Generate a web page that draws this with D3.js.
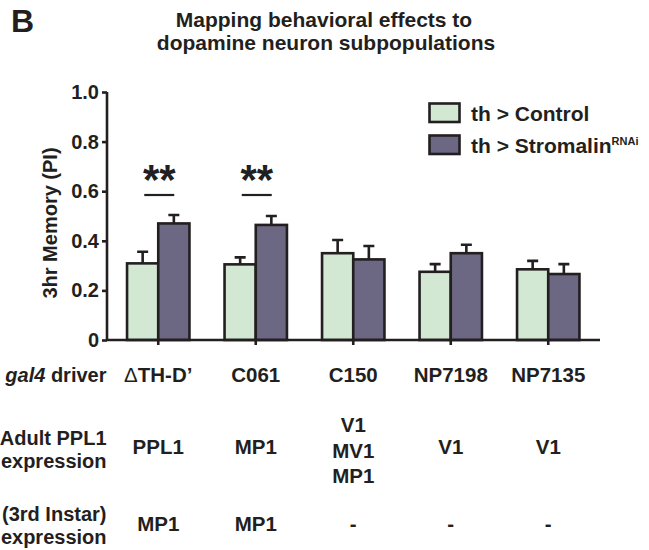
<!DOCTYPE html>
<html>
<head>
<meta charset="utf-8">
<script src="https://cdn.jsdelivr.net/npm/d3@7"></script>
<style>
  body { margin: 0; background: #fff; }
  svg text { font-family: "Liberation Sans", Arial, sans-serif; font-weight: bold; fill: #231f20; }
</style>
</head>
<body>
<div id="chart"></div>
<script>
const drivers = ["ΔTH-D’", "C061", "C150", "NP7198", "NP7135"];
const series = ["th > Control", "th > Stromalin"];
const controlMean = [0.309, 0.305, 0.350, 0.275, 0.285];
const controlErr = [0.047, 0.028, 0.053, 0.031, 0.034];
const rnaiMean = [0.470, 0.464, 0.325, 0.350, 0.266];
const rnaiErr = [0.034, 0.036, 0.054, 0.034, 0.040];
const significant = ["ΔTH-D’", "C061"];
const adultExpr = [["PPL1"], ["MP1"], ["V1", "MV1", "MP1"], ["V1"], ["V1"]];
const larvalExpr = ["MP1", "MP1", "-", "-", "-"];
const yTicks = [0, 0.2, 0.4, 0.6, 0.8, 1.0];

const width = 649, height = 550;
const ink = "#231f20";
const colors = ["#d2e8d3", "#6c6783"];

const svg = d3.select("#chart").append("svg")
  .attr("width", width)
  .attr("height", height);

// panel letter + title
svg.append("text").attr("x", 11).attr("y", 32).style("font-size", "32px").text("B");
svg.append("text").attr("x", 324).attr("y", 27).attr("text-anchor", "middle")
  .style("font-size", "21px").text("Mapping behavioral effects to");
svg.append("text").attr("x", 326).attr("y", 50).attr("text-anchor", "middle")
  .style("font-size", "21px").text("dopamine neuron subpopulations");

const x0 = d3.scaleBand().domain(drivers).range([109.5, 597]).paddingInner(0.36).paddingOuter(0.18);
const x1 = d3.scaleBand().domain([0, 1]).range([0, x0.bandwidth()]);
const y = d3.scaleLinear().domain([0, 1]).range([340, 92]);

const data = drivers.map((d, i) => ({
  driver: d,
  vals: [
    { k: 0, mean: controlMean[i], err: controlErr[i] },
    { k: 1, mean: rnaiMean[i], err: rnaiErr[i] }
  ]
}));

// error bars (upper only), drawn first so bars cover the lower half
const groups = svg.selectAll(".grp").data(data).enter().append("g")
  .attr("class", "grp")
  .attr("transform", d => `translate(${x0(d.driver)},0)`);

groups.selectAll(".err").data(d => d.vals).enter().append("path")
  .attr("class", "err")
  .attr("fill", "none").attr("stroke", ink).attr("stroke-width", 2.6)
  .attr("d", d => {
    const cx = x1(d.k) + x1.bandwidth() / 2;
    const top = y(d.mean + d.err);
    return `M${cx},${y(d.mean)}V${top}M${cx - 5.5},${top}H${cx + 5.5}`;
  });

groups.selectAll("rect").data(d => d.vals).enter().append("rect")
  .attr("x", d => x1(d.k))
  .attr("y", d => y(d.mean))
  .attr("width", x1.bandwidth())
  .attr("height", d => y(0) - y(d.mean))
  .attr("fill", d => colors[d.k])
  .attr("stroke", ink).attr("stroke-width", 2.6);

// y axis
const yAxis = svg.append("g").attr("transform", "translate(107,0)")
  .call(d3.axisLeft(y).tickValues(yTicks).tickSize(5).tickPadding(3)
    .tickFormat(d => d === 0 ? "0" : d3.format(".1f")(d)));
yAxis.select(".domain").attr("stroke", ink).attr("stroke-width", 2.6).attr("d", "M0,92V340");
yAxis.selectAll(".tick line").attr("stroke", ink).attr("stroke-width", 2.6);
yAxis.selectAll(".tick text").style("font-size", "20px").attr("fill", ink);

// x axis
const xAxis = svg.append("g").attr("transform", "translate(0,340)")
  .call(d3.axisBottom(x0).tickSize(5).tickFormat(""));
xAxis.select(".domain").attr("stroke", ink).attr("stroke-width", 2.6).attr("d", "M107,0H600");
xAxis.selectAll(".tick line").attr("stroke", ink).attr("stroke-width", 2.6);

svg.append("text")
  .attr("transform", "translate(57,223) rotate(-90)")
  .attr("text-anchor", "middle")
  .style("font-size", "20px")
  .text("3hr Memory (PI)");

// significance marks
significant.forEach(d => {
  const cx = x0(d) + x0.bandwidth() / 2;
  svg.append("text").attr("x", cx + 1).attr("y", 194).attr("text-anchor", "middle")
    .style("font-size", "42px").text("**");
  svg.append("line").attr("x1", cx - 14).attr("x2", cx + 16).attr("y1", 195).attr("y2", 195)
    .attr("stroke", ink).attr("stroke-width", 2.2);
});

// legend
const legend = svg.append("g");
series.forEach((s, i) => {
  const ly = 103.5 + i * 32;
  legend.append("rect").attr("x", 429.5).attr("y", ly).attr("width", 30).attr("height", 18.5)
    .attr("fill", colors[i]).attr("stroke", ink).attr("stroke-width", 2.6);
  const t = legend.append("text").attr("x", 471).attr("y", ly + 17.5).style("font-size", "21px").text(s);
  if (i === 1) t.append("tspan").attr("dy", -8).style("font-size", "11px").text("RNAi");
});

// table below the chart
const colX = d => x0(d) + x0.bandwidth() / 2;
const rowLabel = (lines, y0) => {
  lines.forEach((l, i) => {
    const t = svg.append("text").attr("x", 106.5).attr("y", y0 + i * 23).attr("text-anchor", "end")
      .style("font-size", "20px");
    if (l === "gal4 driver") {
      t.append("tspan").style("font-style", "italic").text("gal4");
      t.append("tspan").text(" driver");
    } else t.text(l);
  });
};
rowLabel(["gal4 driver"], 381.5);
rowLabel(["Adult PPL1", "expression"], 444.5);
rowLabel(["(3rd Instar)", "expression"], 520.5);

drivers.forEach(d => {
  const t = svg.append("text").attr("x", colX(d)).attr("y", 381.5).attr("text-anchor", "middle")
    .style("font-size", "20.5px");
  if (d.startsWith("Δ")) {
    t.append("tspan").style("font-weight", "normal").text("Δ");
    t.append("tspan").text(d.slice(1));
  } else t.text(d);
});

adultExpr.forEach((lines, i) => {
  lines.forEach((l, j) => {
    const yy = lines.length > 1 ? 431.7 + j * 25.8 : 453.5;
    svg.append("text").attr("x", colX(drivers[i])).attr("y", yy).attr("text-anchor", "middle")
      .style("font-size", "20.5px").text(l);
  });
});

larvalExpr.forEach((l, i) => {
  svg.append("text").attr("x", colX(drivers[i])).attr("y", 531).attr("text-anchor", "middle")
    .style("font-size", "20.5px").text(l);
});
</script>
</body>
</html>
